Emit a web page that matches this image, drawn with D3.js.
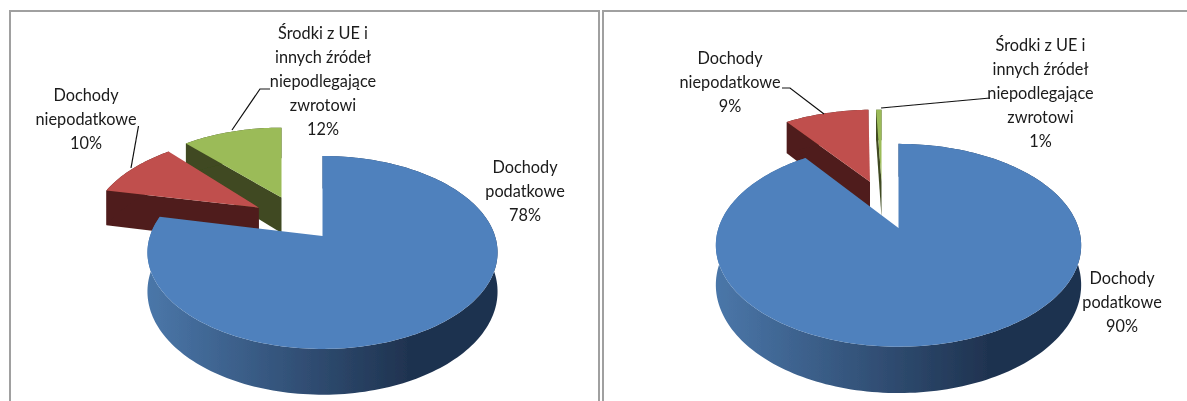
<!DOCTYPE html>
<html lang="pl">
<head>
<meta charset="utf-8">
<title>Struktura dochodów</title>
<script src="https://cdn.jsdelivr.net/npm/d3@7"></script>
<style>
  html, body { margin: 0; padding: 0; background: #fff; overflow: hidden; }
  svg { display: block; }
  text { font-family: Lato, "Noto Sans", sans-serif; font-size: 16.3px; fill: #1a1a1a; text-anchor: middle; }
</style>
</head>
<body>
<div id="chart"></div>
<script>
// Values (labels show them rounded)
const categories = ['Dochody podatkowe', 'Dochody niepodatkowe', 'Środki z UE i innych źródeł niepodlegające zwrotowi'];
const valuesLeft = [78.4, 10, 11.6];
const valuesRight = [90, 9.4, 0.6];

const labelLines = [
  ['Dochody', 'podatkowe'],
  ['Dochody', 'niepodatkowe'],
  ['Środki z UE i', 'innych źródeł', 'niepodlegające', 'zwrotowi']
];

const TOP_COLORS = ['#4F81BD', '#C0504D', '#9BBB59'];
const WALL_COLORS = ['#1f3350', '#4f1e1b', '#3f4a20'];

const width = 1187;
const height = 401;

// Layout of the two panels.
// off = how far a slice is pulled out: [x in pie units, y in pie units, x in pixels]
const panels = [
  {
    values: valuesLeft, cx: 322.5, cy: 236, r: 172.5, tilt: 0.543, depth: 38,
    off: [[0, 0, 0], [-67, 55, 0], [0, 76, -41]],
    labels: [[525, 168], [86, 96], [323, 34]],
    leaders: [null, [[131, 168], [138.5, 126]], [[232, 130], [260, 89], [270, 89]]]
  },
  {
    values: valuesRight, cx: 898.5, cy: 228, r: 180, tilt: 0.547, depth: 38.5,
    off: [[0, 0, 0], [-31, 92, 0], [0, 92, -17]],
    labels: [[1122, 279], [730, 59], [1040.5, 46]],
    leaders: [null, [[782, 88], [790, 88], [824, 114]], [[881, 108], [990, 98]]]
  }
];

const svg = d3.select('#chart').append('svg')
  .attr('width', width)
  .attr('height', height);

const defs = svg.append('defs');

// the picture is a soft screenshot
defs.append('filter').attr('id', 'soft')
  .append('feGaussianBlur').attr('stdDeviation', 0.45);

const root = svg.append('g').attr('filter', 'url(#soft)');

// Frames
root.selectAll('path.frame')
  .data([[10, 599], [603, 1190]])
  .join('path')
  .attr('class', 'frame')
  .attr('d', d => `M${d[0]},${height + 2}V11H${d[1]}V${height + 2}`)
  .attr('fill', 'none')
  .attr('stroke', '#a0a0a0')
  .attr('stroke-width', 2);

const line = d3.line();

panels.forEach((p, pi) => {
  const g = root.append('g');
  const dist = p.r * 5.87;   // viewer distance, gives the nearer half of the pie more height

  const project = (X, Y, shift) => {
    const s = dist / (dist + Y);
    return [p.cx + shift + X * s, p.cy - Y * p.tilt * s, s];
  };

  const slices = d3.pie().sort(null)(p.values);

  // left to right shade of the blue rim
  const grad = defs.append('linearGradient')
    .attr('id', 'rim' + pi)
    .attr('gradientUnits', 'userSpaceOnUse')
    .attr('x1', p.cx - p.r).attr('x2', p.cx + p.r * 0.5)
    .attr('y1', 0).attr('y2', 0);
  grad.append('stop').attr('offset', 0).attr('stop-color', '#4a76a8');
  grad.append('stop').attr('offset', 1).attr('stop-color', '#1f3350');

  // back slices first, the big one ends up on top
  d3.range(slices.length).reverse().forEach(i => {
    const sl = slices[i];
    const [ox, oy, sx] = p.off[i];
    const steps = Math.max(4, Math.ceil((sl.endAngle - sl.startAngle) * 40));
    const angles = d3.range(steps + 1).map(k => sl.startAngle + (sl.endAngle - sl.startAngle) * k / steps);

    const rim = angles.map(a => project(ox + p.r * Math.sin(a), oy + p.r * Math.cos(a), sx));
    const apex = project(ox, oy, sx);
    const down = q => [q[0], q[1] + p.depth * q[2]];
    const flat = q => [q[0], q[1]];

    // radial wall facing the viewer
    g.append('path')
      .attr('d', line([flat(apex), flat(rim[0]), down(rim[0]), down(apex)]) + 'Z')
      .attr('fill', WALL_COLORS[i]);

    // outer wall
    g.append('path')
      .attr('d', line(rim.map(flat).concat(rim.map(down).reverse())) + 'Z')
      .attr('fill', i === 0 ? `url(#rim${pi})` : WALL_COLORS[i]);

    // top face
    g.append('path')
      .attr('d', line([flat(apex)].concat(rim.map(flat))) + 'Z')
      .attr('fill', TOP_COLORS[i]);
  });

  // Leader lines
  g.selectAll('path.leader')
    .data(p.leaders.filter(d => d))
    .join('path')
    .attr('class', 'leader')
    .attr('d', d => line(d))
    .attr('fill', 'none')
    .attr('stroke', '#111')
    .attr('stroke-width', 1.2);

  // Labels
  categories.forEach((c, i) => {
    const lines = labelLines[i].concat(Math.round(p.values[i]) + '%');
    const t = g.append('text')
      .attr('aria-label', c)
      .attr('x', p.labels[i][0])
      .attr('y', p.labels[i][1] + 5);
    t.selectAll('tspan')
      .data(lines)
      .join('tspan')
      .attr('x', p.labels[i][0])
      .attr('dy', (d, k) => k === 0 ? 0 : 24)
      .text(d => d);
  });
});
</script>
</body>
</html>
